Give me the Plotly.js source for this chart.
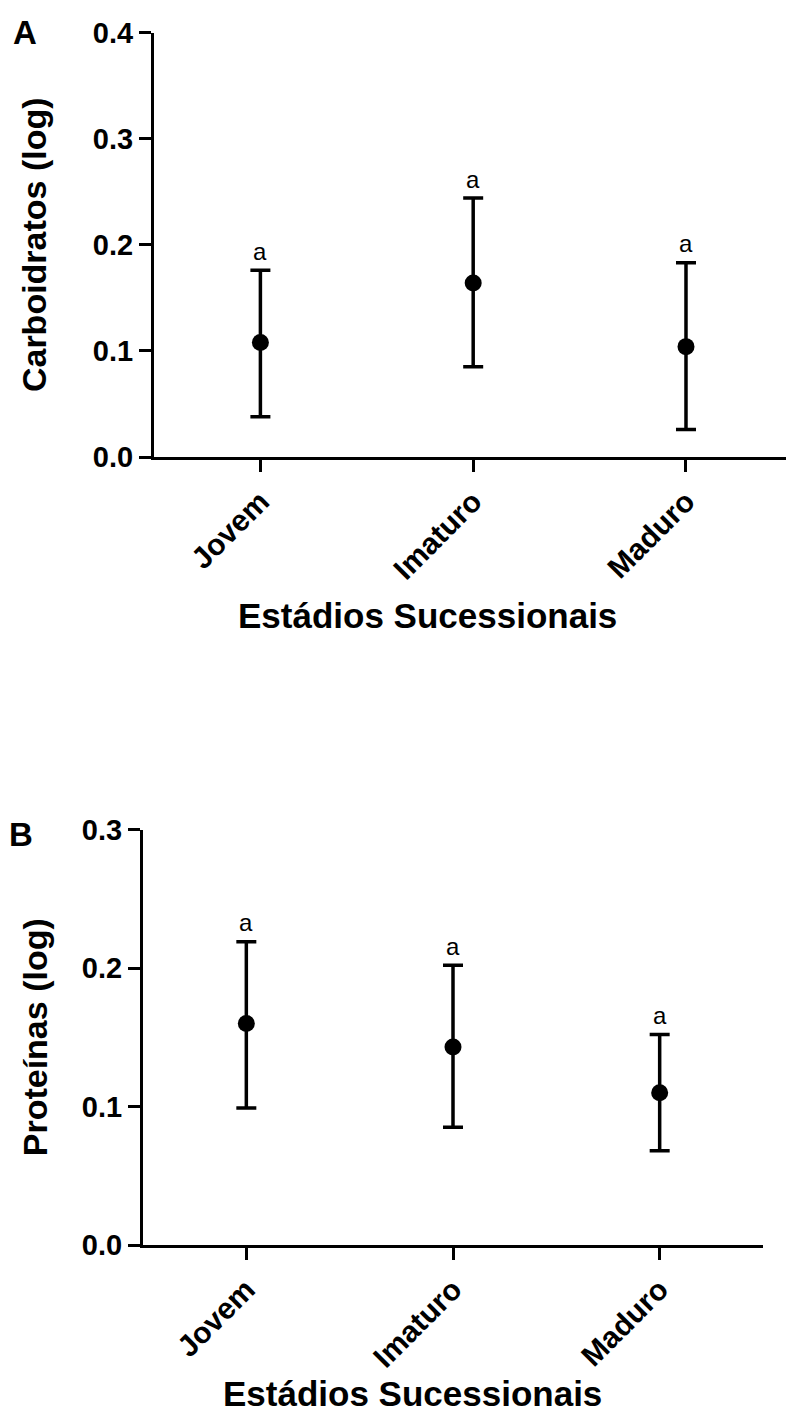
<!DOCTYPE html>
<html>
<head>
<meta charset="utf-8">
<script src="https://cdn.plot.ly/plotly-3.0.1.min.js"></script>
<style>html,body{margin:0;padding:0;background:#fff;}#chart{width:786px;height:1414px;}</style>
</head>
<body>
<div id="chart"></div>
<script>
// ---- data ----
const categories = ['Jovem', 'Imaturo', 'Maduro'];
const carbMean  = [0.108, 0.164, 0.104];
const carbUpper = [0.176, 0.244, 0.183];
const carbLower = [0.038, 0.085, 0.026];
const protMean  = [0.160, 0.143, 0.110];
const protUpper = [0.219, 0.202, 0.152];
const protLower = [0.099, 0.085, 0.068];
const groupLetters = ['a', 'a', 'a'];
const yTicksA = [0, 0.1, 0.2, 0.3, 0.4];
const yTicksB = [0, 0.1, 0.2, 0.3];

const W = 786, H = 1414;
const FONT = 'Liberation Sans, Arial, sans-serif';
const px = v => v / W;
const py = v => 1 - v / H;

function diff(a, b) { return a.map((v, i) => +(v - b[i]).toFixed(4)); }

function meanTrace(mean, upper, lower, xa, ya) {
  return {
    type: 'scatter', mode: 'markers', x: categories, y: mean,
    xaxis: xa, yaxis: ya,
    marker: {symbol: 'circle', size: 17, color: '#000'},
    error_y: {type: 'data', symmetric: false, array: diff(upper, mean), arrayminus: diff(mean, lower),
              color: '#000', thickness: 3.5, width: 10},
    hoverinfo: 'skip'
  };
}
function letterAnnotations(upper, xa, ya) {
  return categories.map((c, i) => ({
    text: groupLetters[i], x: c, y: upper[i], xref: xa, yref: ya,
    xanchor: 'center', yanchor: 'middle', yshift: 19, showarrow: false,
    font: {family: FONT, size: 24, color: '#000'}
  }));
}

const data = [
  meanTrace(carbMean, carbUpper, carbLower, 'x', 'y'),
  meanTrace(protMean, protUpper, protLower, 'x2', 'y2')
];

function xAxis(domain, range, anchor) {
  return {
    domain: domain, anchor: anchor, type: 'category', range: range,
    showline: true, linecolor: '#000', linewidth: 3, mirror: false,
    ticks: 'outside', ticklen: 12, tickwidth: 3, tickcolor: '#000',
    tickangle: -45, showgrid: false, zeroline: false,
    tickfont: {family: FONT, size: 30, color: '#000', weight: 'bold'},
    fixedrange: true
  };
}
function yAxis(domain, range, tickvals, anchor, title, standoff) {
  return {
    domain: domain, anchor: anchor, range: range,
    tickvals: tickvals, tickformat: '.1f',
    showline: true, linecolor: '#000', linewidth: 3,
    ticks: 'outside', ticklen: 12, tickwidth: 3, tickcolor: '#000',
    showgrid: false, zeroline: false,
    tickfont: {family: FONT, size: 29, color: '#000', weight: 'bold'},
    title: {text: title, standoff: standoff, font: {family: FONT, size: 34, color: '#000', weight: 'bold'}},
    fixedrange: true
  };
}

const layout = {
  width: W, height: H,
  margin: {l: 0, r: 0, t: 0, b: 0},
  paper_bgcolor: '#fff', plot_bgcolor: '#fff',
  showlegend: false,
  xaxis:  xAxis([px(154), px(786)], [-0.5, 2.47], 'y'),
  yaxis:  yAxis([py(457), py(32.5)], [0, 0.4], yTicksA, 'x', 'Carboidratos (log)', 36),
  xaxis2: xAxis([px(143), px(763)], [-0.5, 2.5], 'y2'),
  yaxis2: yAxis([py(1245), py(829.5)], [0, 0.3], yTicksB, 'x2', 'Proteínas (log)', 24),
  annotations: [
    {text: 'A', xref: 'paper', yref: 'paper', x: px(25), y: py(32), xanchor: 'center', yanchor: 'middle',
     showarrow: false, font: {family: FONT, size: 33, color: '#000', weight: 'bold'}},
    {text: 'B', xref: 'paper', yref: 'paper', x: px(21), y: py(834), xanchor: 'center', yanchor: 'middle',
     showarrow: false, font: {family: FONT, size: 33, color: '#000', weight: 'bold'}},
    {text: 'Estádios Sucessionais', xref: 'paper', yref: 'paper', x: px(427), y: py(616), xanchor: 'center', yanchor: 'middle',
     showarrow: false, font: {family: FONT, size: 35, color: '#000', weight: 'bold'}},
    {text: 'Estádios Sucessionais', xref: 'paper', yref: 'paper', x: px(412), y: py(1393), xanchor: 'center', yanchor: 'middle',
     showarrow: false, font: {family: FONT, size: 35, color: '#000', weight: 'bold'}}
  ].concat(letterAnnotations(carbUpper, 'x', 'y'), letterAnnotations(protUpper, 'x2', 'y2'))
};

Plotly.newPlot('chart', data, layout, {displayModeBar: false, staticPlot: true});
</script>
</body>
</html>
